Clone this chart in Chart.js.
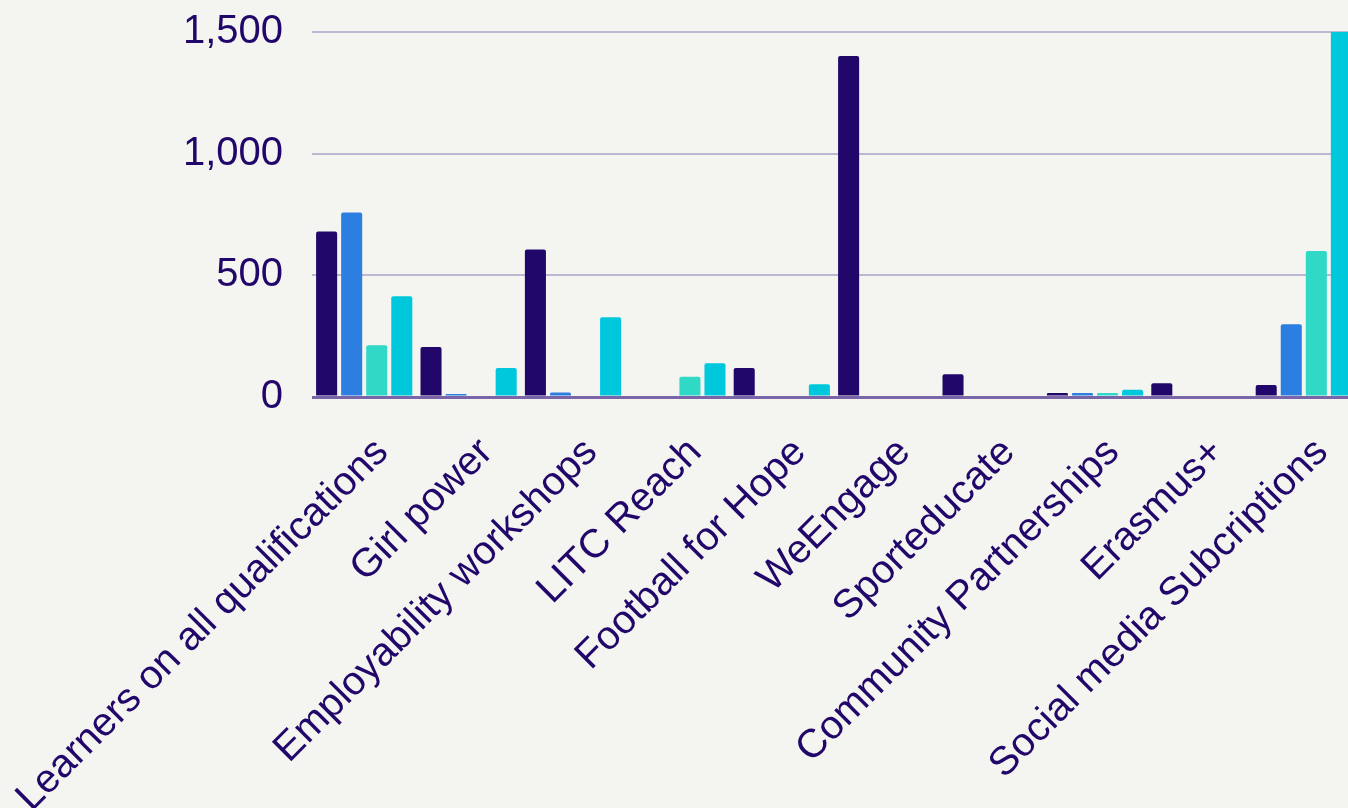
<!DOCTYPE html>
<html>
<head>
<meta charset="utf-8">
<script src="https://cdn.jsdelivr.net/npm/chart.js@4"></script>
<style>
  html, body { margin: 0; padding: 0; background: #f4f5f0; overflow: hidden; }
  #wrap { width: 1356px; height: 829px; margin-top: -21px; }
</style>
</head>
<body>
<div id="wrap"><canvas id="barChart"></canvas></div>
<script>
const categories = [
  "Learners on all qualifications", "Girl power", "Employability workshops",
  "LITC Reach", "Football for Hope", "WeEngage", "Sporteducate",
  "Community Partnerships", "Erasmus+", "Social media Subcriptions"
];
const series1 = [680, 205, 606, 0, 119, 1401, 93, 16, 56, 49];
const series2 = [758, 12, 19, 0, 0, 0, 0, 16, 0, 299];
const series3 = [213, 0, 0, 83, 0, 0, 0, 16, 0, 600];
const series4 = [414, 119, 328, 139, 52, 0, 0, 30, 0, 2000];
const yTicks = [0, 500, 1000, 1500];

const textColor = "#22076b";
const font = { family: "'Liberation Sans', Arial, sans-serif", size: 40 };

function bars(label, data, color) {
  return {
    label,
    data,
    backgroundColor: color,
    borderRadius: 2,
    borderSkipped: "bottom",
    categoryPercentage: 0.96,
    barPercentage: 0.84
  };
}

const ctx = document.getElementById("barChart").getContext("2d");
const chart = new Chart(ctx, {
  type: "bar",
  data: {
    labels: categories,
    datasets: [
      bars("Series 1", series1, "#22076b"),
      bars("Series 2", series2, "#2c7fe0"),
      bars("Series 3", series3, "#2fd9c6"),
      bars("Series 4", series4, "#00c8dc")
    ]
  },
  options: {
    responsive: true,
    maintainAspectRatio: false,
    animation: false,
    layout: { padding: 0 },
    plugins: { legend: { display: false }, tooltip: { enabled: false } },
    scales: {
      x: {
        afterFit: (scale) => {
          scale.height = 411;
          scale.paddingLeft = 0;
          scale.paddingRight = 0;
        },
        grid: { display: false },
        border: { display: false },
        ticks: {
          color: textColor,
          font,
          autoSkip: false,
          minRotation: 45,
          maxRotation: 45,
          padding: 24,
          labelOffset: 18
        }
      },
      y: {
        min: 0,
        max: 1500,
        afterBuildTicks: (scale) => {
          scale.ticks = yTicks.map(v => ({ value: v }));
        },
        afterFit: (scale) => { scale.width = 312; },
        border: { display: false },
        grid: {
          drawTicks: false,
          color: (c) => c.tick && c.tick.value === 0 ? "#7a65a8" : "#bfb6d3",
          lineWidth: (c) => c.tick && c.tick.value === 0 ? 3 : 2
        },
        ticks: {
          color: textColor,
          font,
          padding: 29
        }
      }
    }
  }
});
</script>
</body>
</html>
